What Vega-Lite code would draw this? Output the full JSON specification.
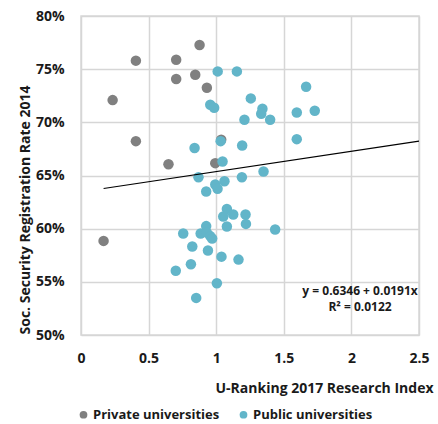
{
  "$schema": "https://vega.github.io/schema/vega-lite/v6.json",
  "width": 338,
  "height": 319,
  "autosize": "none",
  "padding": {"left": 81, "top": 16, "right": 19, "bottom": 89},
  "background": "white",
  "config": {
    "view": {"stroke": "#d9d9d9", "strokeWidth": 1.5},
    "font": "Open Sans",
    "axis": {
      "grid": true, "gridColor": "#d6d6d6", "gridWidth": 1.5,
      "domain": false, "ticks": false, "labelFlush": false,
      "labelFont": "Open Sans", "labelFontWeight": "bold", "labelFontSize": 14, "labelColor": "#1a1a1a",
      "titleFont": "Open Sans", "titleFontWeight": "bold", "titleFontSize": 14, "titleColor": "#1a1a1a"
    }
  },
  "datasets": {
    "pts": [
      {"type": "Private universities", "x": 0.877, "y": 0.7727},
      {"type": "Private universities", "x": 0.406, "y": 0.758},
      {"type": "Private universities", "x": 0.704, "y": 0.7589},
      {"type": "Private universities", "x": 0.704, "y": 0.7407},
      {"type": "Private universities", "x": 0.845, "y": 0.7448},
      {"type": "Private universities", "x": 0.931, "y": 0.7326},
      {"type": "Private universities", "x": 0.234, "y": 0.7209},
      {"type": "Private universities", "x": 0.406, "y": 0.6823},
      {"type": "Private universities", "x": 0.647, "y": 0.6606},
      {"type": "Private universities", "x": 1.037, "y": 0.6836},
      {"type": "Private universities", "x": 0.993, "y": 0.6616},
      {"type": "Private universities", "x": 0.167, "y": 0.5885},
      {"type": "Public universities", "x": 1.011, "y": 0.7479},
      {"type": "Public universities", "x": 1.153, "y": 0.7479},
      {"type": "Public universities", "x": 1.665, "y": 0.7335},
      {"type": "Public universities", "x": 1.256, "y": 0.7225},
      {"type": "Public universities", "x": 0.956, "y": 0.7166},
      {"type": "Public universities", "x": 0.985, "y": 0.7137},
      {"type": "Public universities", "x": 1.342, "y": 0.7128},
      {"type": "Public universities", "x": 1.333, "y": 0.7081},
      {"type": "Public universities", "x": 1.596, "y": 0.7093},
      {"type": "Public universities", "x": 1.729, "y": 0.7109},
      {"type": "Public universities", "x": 1.399, "y": 0.7024},
      {"type": "Public universities", "x": 1.209, "y": 0.7024},
      {"type": "Public universities", "x": 1.596, "y": 0.6842},
      {"type": "Public universities", "x": 1.033, "y": 0.6823},
      {"type": "Public universities", "x": 0.84, "y": 0.6759},
      {"type": "Public universities", "x": 1.192, "y": 0.6782},
      {"type": "Public universities", "x": 1.047, "y": 0.6632},
      {"type": "Public universities", "x": 1.35, "y": 0.6538},
      {"type": "Public universities", "x": 0.869, "y": 0.6484},
      {"type": "Public universities", "x": 1.19, "y": 0.6484},
      {"type": "Public universities", "x": 1.061, "y": 0.6446},
      {"type": "Public universities", "x": 0.993, "y": 0.6415},
      {"type": "Public universities", "x": 1.01, "y": 0.6375},
      {"type": "Public universities", "x": 0.926, "y": 0.6349},
      {"type": "Public universities", "x": 1.079, "y": 0.6186},
      {"type": "Public universities", "x": 1.126, "y": 0.6133},
      {"type": "Public universities", "x": 1.052, "y": 0.6114},
      {"type": "Public universities", "x": 1.217, "y": 0.6133},
      {"type": "Public universities", "x": 1.22, "y": 0.6045},
      {"type": "Public universities", "x": 1.079, "y": 0.602},
      {"type": "Public universities", "x": 0.926, "y": 0.6024},
      {"type": "Public universities", "x": 1.436, "y": 0.5992},
      {"type": "Public universities", "x": 0.756, "y": 0.5954},
      {"type": "Public universities", "x": 0.885, "y": 0.5954},
      {"type": "Public universities", "x": 0.931, "y": 0.5963},
      {"type": "Public universities", "x": 0.956, "y": 0.593},
      {"type": "Public universities", "x": 0.97, "y": 0.5907},
      {"type": "Public universities", "x": 0.823, "y": 0.5833},
      {"type": "Public universities", "x": 0.939, "y": 0.5794},
      {"type": "Public universities", "x": 1.039, "y": 0.5737},
      {"type": "Public universities", "x": 1.165, "y": 0.5709},
      {"type": "Public universities", "x": 0.813, "y": 0.5665},
      {"type": "Public universities", "x": 0.701, "y": 0.5604},
      {"type": "Public universities", "x": 1.005, "y": 0.5486},
      {"type": "Public universities", "x": 0.852, "y": 0.5349}
    ],
    "trend": [
      {"x": 0.167, "y": 0.6378},
      {"x": 2.5, "y": 0.6824}
    ],
    "eq": [
      {"x": 2.064, "y": 0.541, "label": "y = 0.6346 + 0.0191x"},
      {"x": 2.064, "y": 0.526, "label": "R² = 0.0122"}
    ]
  },
  "layer": [
    {
      "data": {"name": "pts"},
      "mark": {"type": "circle", "size": 110, "opacity": 1},
      "encoding": {
        "x": {"field": "x", "type": "quantitative", "scale": {"domain": [0, 2.5], "nice": false},
          "axis": {"values": [0, 0.5, 1, 1.5, 2, 2.5], "format": "~g", "labelPadding": 16, "title": "U-Ranking 2017 Research Index",
            "titleX": 352, "titleY": 53, "titleAlign": "right", "titleBaseline": "middle"}},
        "y": {"field": "y", "type": "quantitative", "scale": {"domain": [0.5, 0.8], "nice": false},
          "axis": {"values": [0.5, 0.55, 0.6, 0.65, 0.7, 0.75, 0.8], "format": ".0%", "labelPadding": 17,
            "title": "Soc. Security Registration Rate 2014",
            "titleX": -56, "titleY": 318, "titleAngle": -90, "titleAlign": "left", "titleBaseline": "middle"}},
        "color": {"field": "type", "type": "nominal",
          "scale": {"domain": ["Private universities", "Public universities"], "range": ["#808080", "#62b5c9"]},
          "legend": {"title": null, "orient": "none", "direction": "horizontal", "legendX": -4, "legendY": 392,
            "symbolType": "circle", "symbolSize": 60, "labelFont": "Open Sans", "labelFontWeight": "bold",
            "labelFontSize": 13, "labelColor": "#1a1a1a", "columnPadding": 17, "labelOffset": 3}},
        "order": {"field": "type", "sort": "ascending"}
      }
    },
    {
      "data": {"name": "trend"},
      "mark": {"type": "line", "color": "black", "strokeWidth": 1.2},
      "encoding": {
        "x": {"field": "x", "type": "quantitative"},
        "y": {"field": "y", "type": "quantitative"}
      }
    },
    {
      "data": {"name": "eq"},
      "mark": {"type": "text", "font": "Open Sans", "fontWeight": "bold", "fontSize": 12, "color": "#1a1a1a", "align": "center", "baseline": "middle"},
      "encoding": {
        "x": {"field": "x", "type": "quantitative"},
        "y": {"field": "y", "type": "quantitative"},
        "text": {"field": "label"}
      }
    }
  ]
}
